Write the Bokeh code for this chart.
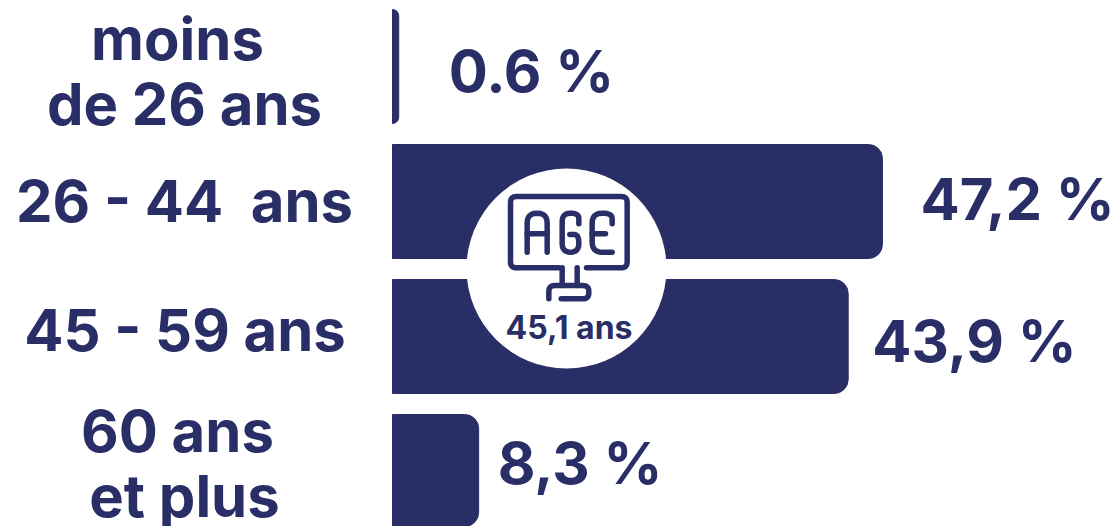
from bokeh.plotting import figure
from bokeh.models import Range1d, ColumnDataSource
from bokeh.core.properties import value
from bokeh.embed import file_html
from bokeh.resources import INLINE

categories = ["moins de 26 ans", "26 - 44  ans", "45 - 59 ans", "60 ans et plus"]
shares = [0.6, 47.2, 43.9, 8.3]
share_labels = ["0.6 %", "47,2 %", "43,9 %", "8,3 %"]
category_lines = ["moins", "de 26 ans", "26 - 44\u00a0 ans", "45 - 59 ans", "60 ans", "et plus"]
mean_age_label = "45,1 ans"

COLOR = "#292F66"
FONT = "Inter"
W, H = 1119, 526
X0, PX_PER_X = 392, 10.38
Y0, PX_PER_Y = 66, 135.0
SIZE = 58
SHIFT = 0.38 * SIZE


def dx(px):
    return (px - X0) / PX_PER_X


def dy(py):
    return (py - Y0) / PX_PER_Y


p = figure(width=W, height=H, output_backend="svg", toolbar_location=None,
           x_range=Range1d(-X0 / PX_PER_X, (W - X0) / PX_PER_X),
           y_range=Range1d((H - Y0) / PX_PER_Y, -Y0 / PX_PER_Y),
           min_border=0, outline_line_color=None, background_fill_color="white",
           border_fill_color="white")
p.axis.visible = False
p.grid.visible = False

ys = list(range(len(shares)))
baselines = [93, 221, 363, 485]
src = ColumnDataSource(dict(y=ys, v=shares, lab=share_labels,
                            xo=[50, 38, 24, 19],
                            yo=[b - (Y0 + i * PX_PER_Y) - SHIFT for i, b in enumerate(baselines)]))
p.hbar(y="y", right="v", left=0, height=114 / 135, color=COLOR, source=src,
       border_radius={"top_left": 0, "top_right": 14, "bottom_right": 14, "bottom_left": 0})
p.text(x="v", y="y", text="lab", source=src, x_offset="xo", y_offset="yo",
       text_color=COLOR, text_font=value(FONT), text_font_style="bold",
       text_font_size=f"{SIZE}px", text_align="left", text_baseline="alphabetic")

# category labels (two-line ones are split)
cx = [177, 184, 184, 184.5, 177, 184]
base = [61, 126, 222.5, 352, 453, 518]
p.text(x=[dx(c) for c in cx], y=[dy(b - SHIFT) for b in base], text=category_lines,
       text_color=COLOR, text_font=value(FONT), text_font_style="bold",
       text_font_size=f"{SIZE}px", text_align="center", text_baseline="alphabetic")

# badge
p.scatter(x=[dx(566)], y=[dy(268)], size=200, marker="circle",
          fill_color="white", line_color=None)


def corner(a, b, c):
    pts = []
    for i in range(7):
        t = i / 6
        la = (a[0] + (b[0] - a[0]) * t, a[1] + (b[1] - a[1]) * t)
        lb = (b[0] + (c[0] - b[0]) * t, b[1] + (c[1] - b[1]) * t)
        pts.append((la[0] + (lb[0] - la[0]) * t, la[1] + (lb[1] - la[1]) * t))
    return pts


def toward(s, e, d):
    L = ((e[0] - s[0]) ** 2 + (e[1] - s[1]) ** 2) ** .5
    d = min(d, L / 2)
    return (s[0] + (e[0] - s[0]) * d / L, s[1] + (e[1] - s[1]) * d / L)


def rounded(points, r):
    out = [points[0]]
    for i in range(1, len(points) - 1):
        a, b, c = points[i - 1], points[i], points[i + 1]
        out += corner(toward(b, a, r), b, toward(b, c, r))
    out.append(points[-1])
    return out


icon = [
    ([(325, 292), (180, 292), (180, 78), (530, 78), (530, 292), (408, 292)], 18),
    ([(335, 292), (335, 345)], 0),
    ([(380, 292), (380, 345)], 0),
    ([(295, 385), (295, 345), (415, 345), (415, 385), (332, 385)], 18),
    ([(230, 245), (230, 128), (290, 128), (290, 245)], 30),
    ([(230, 190), (290, 190)], 0),
    ([(385, 160), (385, 128), (335, 128), (335, 245), (385, 245), (385, 192), (358, 192)], 26),
    ([(485, 160), (485, 128), (425, 128), (425, 245), (485, 245)], 30),
    ([(425, 190), (465, 190)], 0),
]
xs_i, ys_i = [], []
for pts, r in icon:
    q = rounded(pts, r) if r else pts
    xs_i.append([dx(450 + a / 3) for a, _ in q])
    ys_i.append([dy(170 + b / 3) for _, b in q])
p.multi_line(xs_i, ys_i, line_color=COLOR, line_width=5.5, line_cap="round", line_join="round")

p.text(x=[dx(568.5)], y=[dy(339 - 0.38 * 32)], text=[mean_age_label], text_color=COLOR,
       text_font=value(FONT), text_font_style="bold", text_font_size="32px",
       text_align="center", text_baseline="alphabetic")

open("out.html", "w").write(file_html(p, INLINE))
